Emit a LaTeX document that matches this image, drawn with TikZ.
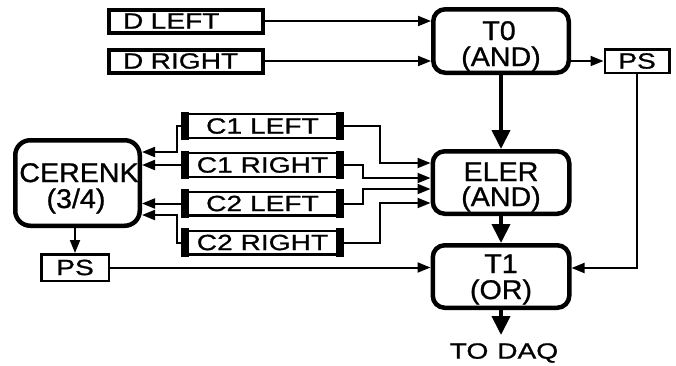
\documentclass[tikz,border=0pt]{standalone}
\usepackage{fontspec}
\newfontfamily\smallfnt[FakeStretch=1.28,FakeBold=1.0]{Liberation Sans}
\newfontfamily\bigfnt[FakeStretch=1.06,FakeBold=1.0]{Liberation Sans}
\usetikzlibrary{arrows.meta}

\begin{document}
\begin{tikzpicture}[x=1pt,y=-1pt,
  lbl/.style={font={\smallfnt\fontsize{22}{25}\selectfont}, inner sep=0pt},
  big/.style={font={\bigfnt\fontsize{27}{29}\selectfont}, inner sep=0pt, anchor=base},
  dbox/.style={draw, line width=4pt, lbl, align=left, text width=126pt,
    inner xsep=14pt, minimum height=23pt},
  cbox/.style={draw, line width=2.2pt, lbl, minimum width=158.8pt, minimum height=23.8pt},
  psbox/.style={draw, line width=2.5pt, lbl},
  logic/.style={draw, line width=4.5pt, rounded corners=12pt, inner sep=0pt},
  sig/.style={line width=2pt, -{Triangle[length=13pt,width=10pt]}},
  bus/.style={line width=4pt, -{Triangle[length=19pt,width=18pt]}},
]
\useasboundingbox (0,0) rectangle (676,365);

% detector inputs
\node[dbox] (dl) at (186,21) {D LEFT};
\node[dbox] (dr) at (186,61) {D RIGHT};

% Cerenkov counters
\node[cbox] (c1l) at (262.5,126) {C1 LEFT};
\node[cbox] (c1r) at (262.5,165) {C1 RIGHT};
\node[cbox] (c2l) at (262.5,203.5) {C2 LEFT};
\node[cbox] (c2r) at (262.5,242.5) {C2 RIGHT};
\foreach \c in {c1l,c1r,c2l,c2r}{
  \filldraw[line width=2.2pt] (\c.north west) rectangle ([xshift=6pt]\c.south west);
  \filldraw[line width=2.2pt] (\c.north east) rectangle ([xshift=-6pt]\c.south east);
}

% logic units
\node[logic, minimum width=135.5pt, minimum height=63.5pt] (t0) at (501,41) {};
\node[big] (t0a) at (499,40) {T0};
\node[big] (t0b) at (501,66) {(AND)};
\node[logic, minimum width=136.5pt, minimum height=62.5pt] (eler) at (501,182.5) {};
\node[big] (elera) at (501,181) {ELER};
\node[big] (elerb) at (501,206) {(AND)};
\node[logic, minimum width=136.5pt, minimum height=62.5pt] (t1) at (501,276.5) {};
\node[big] (t1a) at (501,273) {T1};
\node[big] (t1b) at (501,299) {(OR)};
\node[logic, rounded corners=15pt, minimum width=124.5pt, minimum height=85.5pt] (cer) at (77.5,183) {};
\node[big] (cera) at (79,182) {CERENK};
\node[big] (cerb) at (76,208) {(3/4)};

% prescalers
\node[psbox, minimum width=64.5pt, minimum height=23.5pt] (psr) at (637,61) {PS};
\node[psbox, minimum width=67.5pt, minimum height=26.5pt] (psl) at (75,267.5) {PS};

% output
\node[lbl] (daq) at (504,353) {TO\hspace{0.4em}DAQ};
\coordinate (daqtip) at (501,335);

% D signals into T0
\draw[sig] (dl.east) -- (dl.east -| t0.west);
\draw[sig] (dr.east) -- (dr.east -| t0.west);
\draw[sig] (t0.east |- psr.west) -- (psr.west);

% Cerenkov signals to CERENK
\draw[sig] (c1l.west) -- (c1l.west -| 177,0) |- (cer.east |- 0,152);
\draw[sig] (c1r.west) -- (c1r.west -| cer.east);
\draw[sig] (c2l.west) -- (c2l.west -| cer.east);
\draw[sig] (c2r.west) -- (c2r.west -| 177,0) |- (cer.east |- 0,215);

% Cerenkov signals to ELER
\draw[sig] (c1l.east) -- (c1l.east -| 380,0) |- (eler.west |- 0,163);
\draw[sig] (c1r.east) -- (c1r.east -| 363,0) |- (eler.west |- 0,178);
\draw[sig] (c2l.east) -- (c2l.east -| 363,0) |- (eler.west |- 0,189);
\draw[sig] (c2r.east) -- (c2r.east -| 380,0) |- (eler.west |- 0,203);

% trigger chain
\draw[bus] (t0.south) -- (eler.north);
\draw[bus] (eler.south) -- (t1.north);
\draw[bus] (t1.south) -- (daqtip);

% prescaled paths into T1
\draw[sig] (psl.north |- cer.south) -- (psl.north);
\draw[sig] (psl.east) -- (psl.east -| t1.west);
\draw[sig] (psr.south) |- (t1.east |- 0,268);
\end{tikzpicture}
\end{document}
